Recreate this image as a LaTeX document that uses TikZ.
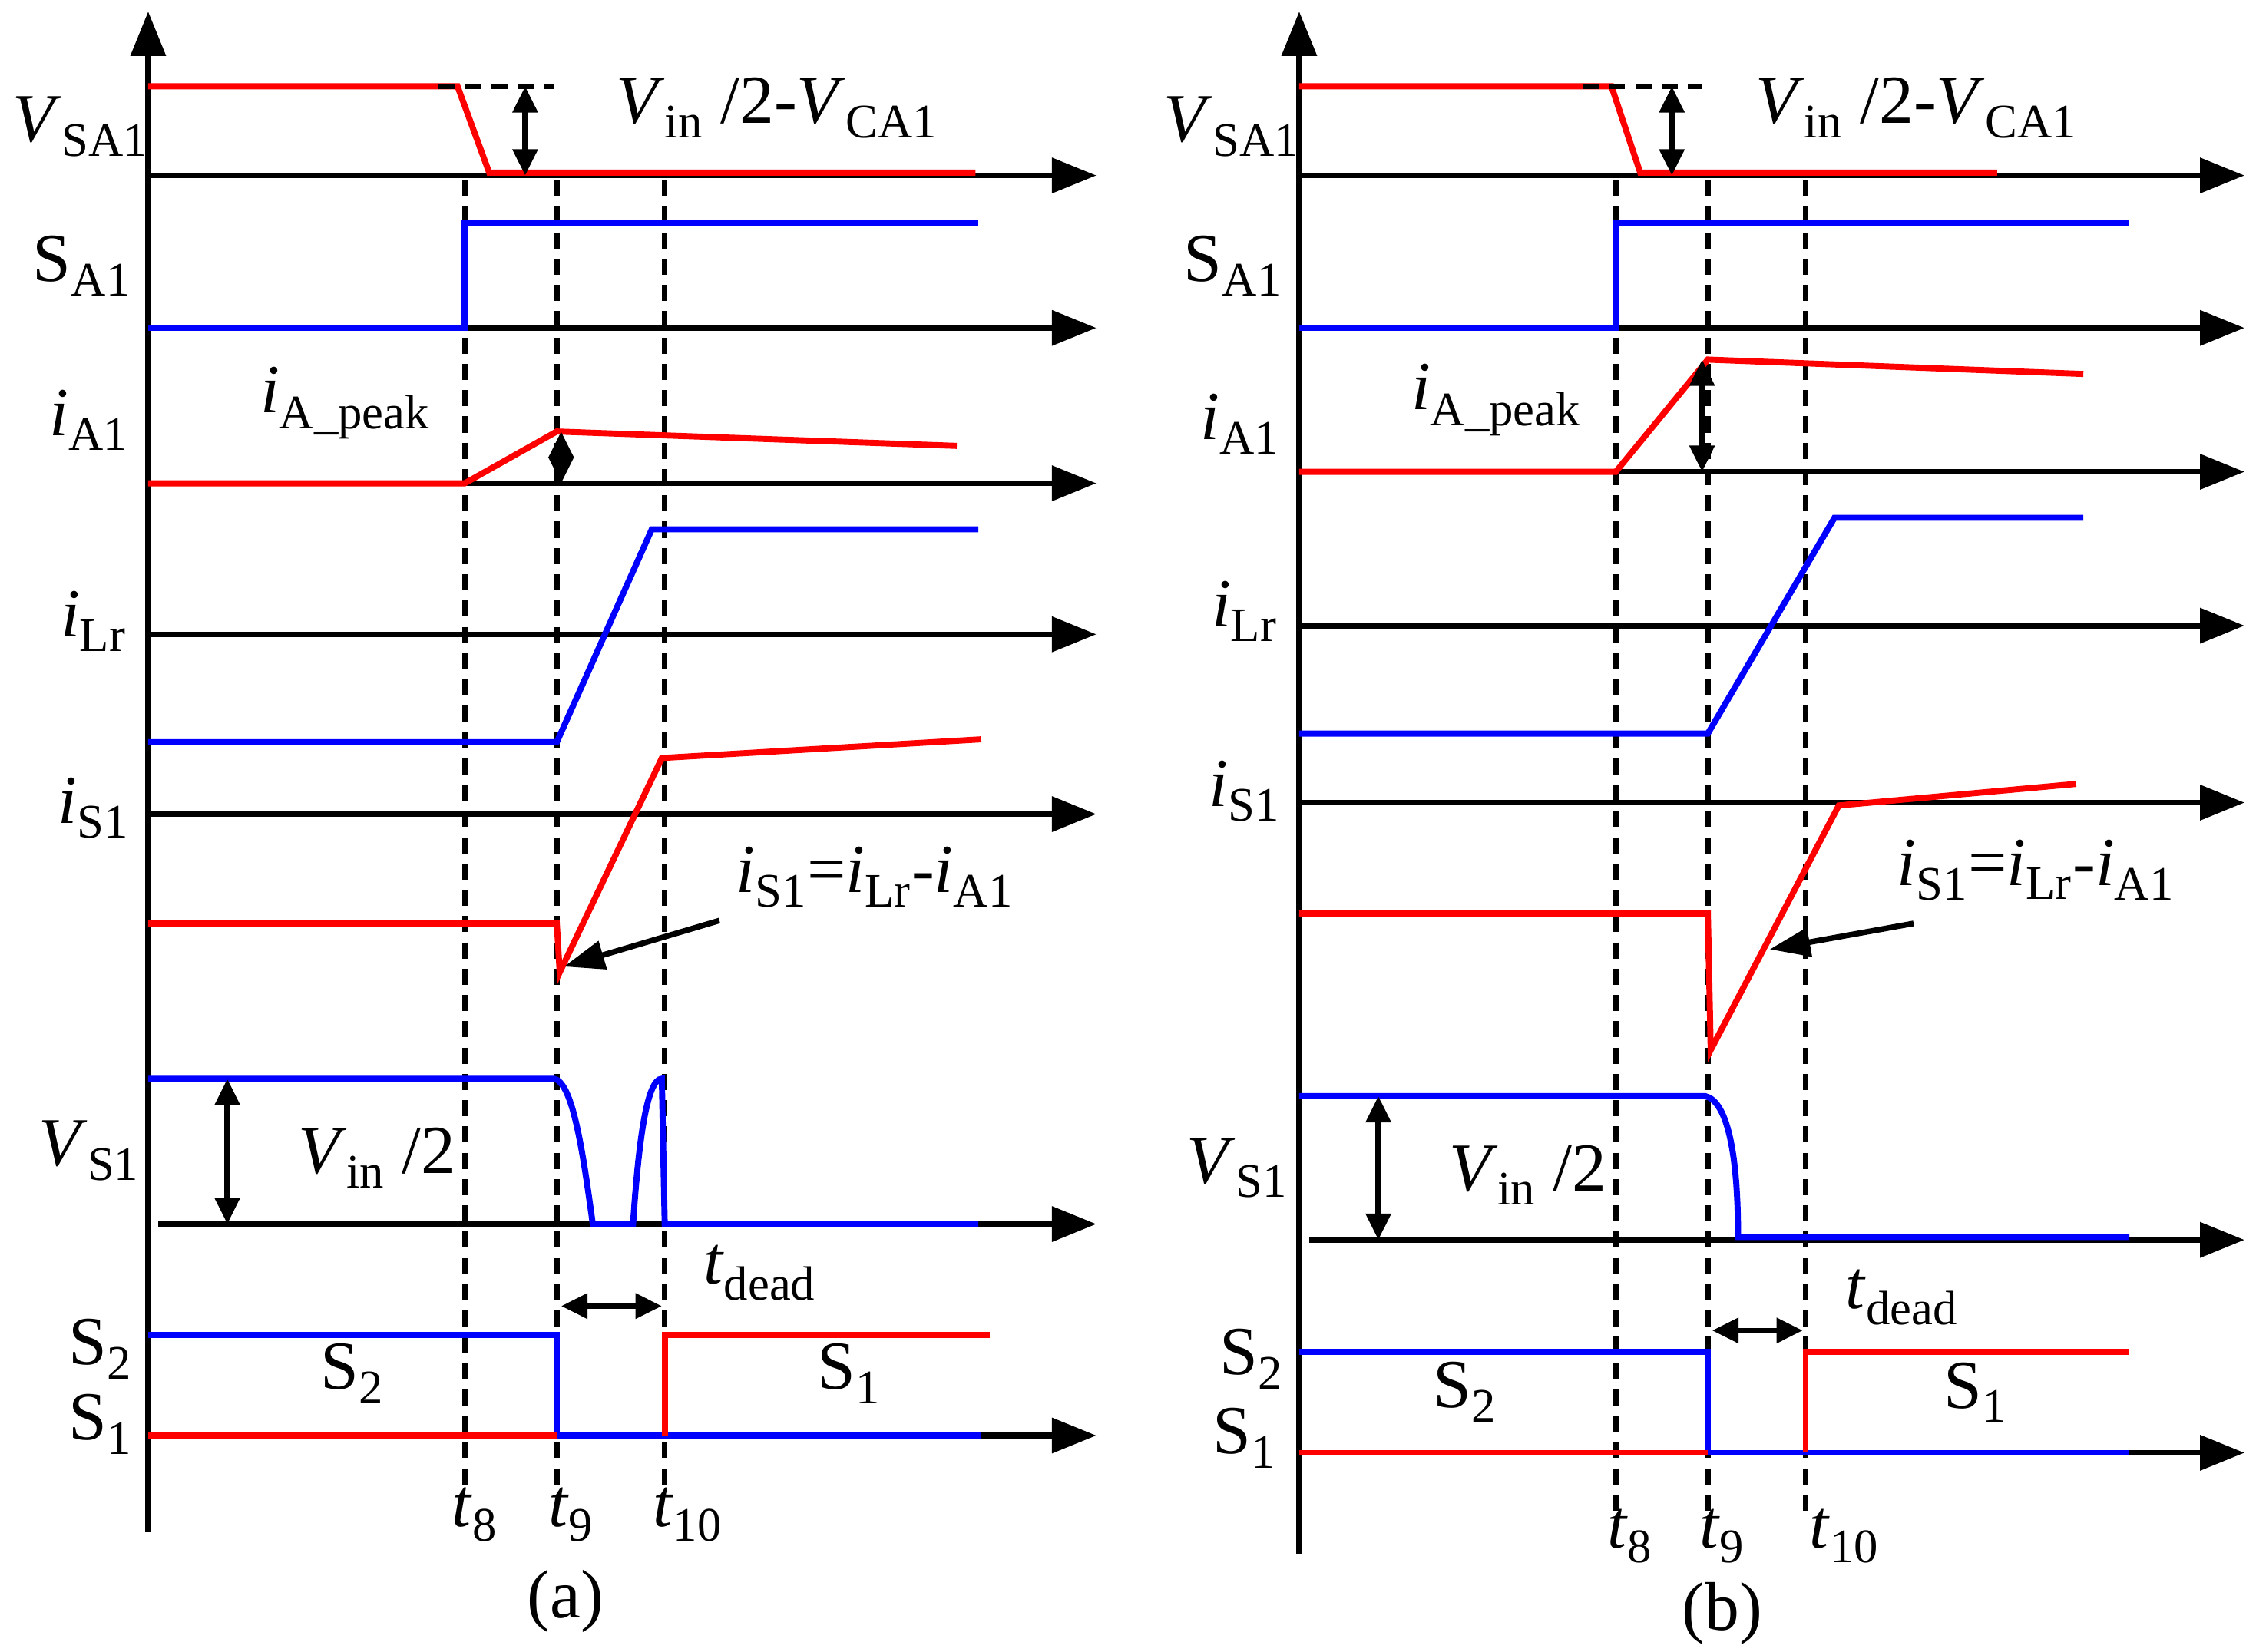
\documentclass[tikz,border=0pt]{standalone}
\usepackage{fontspec}
\setmainfont{Liberation Serif}
\usetikzlibrary{arrows.meta}
\newcommand{\vs}[2]{\textit{#1}\textsubscript{#2}}
\begin{document}
\begin{tikzpicture}[x=0.025cm,y=-0.025cm,
 ax/.style={line width=2.8pt,-{Triangle[length=22pt,width=17pt]}},
 rd/.style={red,line width=3pt},
 bl/.style={blue,line width=3pt},
 ds/.style={black,line width=2.8pt,dash pattern=on 8pt off 5pt},
 da/.style={line width=2.8pt,{Triangle[length=13pt,width=12pt]}-{Triangle[length=13pt,width=12pt]}},
 lb/.style={font=\fontsize{34}{40}\selectfont,inner sep=0pt}]
\useasboundingbox (0,0) rectangle (1568,1148);
% ===== panel a =====
\draw[ax] (103,1065) -- (103,8);
\foreach \y in {122,228,336,441,566,998} \draw[ax] (103,\y) -- (762,\y);
\draw[ax] (110,851) -- (762,851);
\foreach \x in {323,387,462} \draw[ds] (\x,125) -- (\x,1040);
\draw[rd] (103,60) -- (318,60) -- (340,120) -- (678,120);
\draw[ds] (305,60) -- (385,60);
\draw[da] (365,60) -- (365,122);
\draw[bl] (103,228) -- (323,228) -- (323,155) -- (680,155);
\draw[rd] (103,336) -- (323,336) -- (387,300) -- (665,310);
\draw[da] (390,300) -- (390,336);
\draw[bl] (103,516) -- (387,516) -- (453,368) -- (680,368);
\draw[rd] (103,642) -- (387,642) -- (389,676) -- (460,527) -- (682,514);
\draw[line width=2.8pt,-{Triangle[length=20pt,width=14pt]}] (500,640) -- (392,672);
\draw[bl] (103,750) -- (385,750) .. controls (398,752) and (405,800) .. (412,851) -- (440,851) .. controls (444,790) and (450,750) .. (460,750) -- (462,851) -- (680,851);
\draw[da] (158,750) -- (158,851);
\draw[bl] (103,928) -- (387,928) -- (387,998) -- (682,998);
\draw[rd] (103,998) -- (387,998);
\draw[rd] (462,998) -- (462,928) -- (688,928);
\draw[da] (390,908) -- (460,908);
\node[lb] (a1) at (56,88) {\vs{V}{SA1}};
\node[lb] (a2) at (57,185) {S\textsubscript{A1}};
\node[lb] (a3) at (62,292) {\vs{i}{A1}};
\node[lb] (a4) at (240,280) {\vs{i}{A\_peak}};
\node[lb] (a5) at (65,432) {\vs{i}{Lr}};
\node[lb] (a6) at (65,562) {\vs{i}{S1}};
\node[lb] (a7) at (608,610) {\vs{i}{S1}=\vs{i}{Lr}-\vs{i}{A1}};
\node[lb] (a8) at (62,800) {\vs{V}{S1}};
\node[lb] (a9) at (262,805) {\vs{V}{in} /2};
\node[lb] (a10) at (540,75) {\vs{V}{in} /2-\vs{V}{CA1}};
\node[lb] (a11) at (528,885) {\vs{t}{dead}};
\node[lb] (a12) at (70,938) {S\textsubscript{2}};
\node[lb] (a13) at (70,990) {S\textsubscript{1}};
\node[lb] (a14) at (245,955) {S\textsubscript{2}};
\node[lb] (a15) at (590,955) {S\textsubscript{1}};
\node[lb] (a16) at (330,1053) {\vs{t}{8}};
\node[lb] (a17) at (397,1053) {\vs{t}{9}};
\node[lb] (a18) at (478,1053) {\vs{t}{10}};
\node[lb] (a19) at (393,1113) {(a)};
% ===== panel b =====
\draw[ax] (903,1080) -- (903,8);
\foreach \y in {122,228,328,435,558,1010} \draw[ax] (903,\y) -- (1560,\y);
\draw[ax] (910,862) -- (1560,862);
\foreach \x in {1123,1187,1255} \draw[ds] (\x,125) -- (\x,1055);
\draw[rd] (903,60) -- (1120,60) -- (1140,120) -- (1388,120);
\draw[ds] (1100,60) -- (1183,60);
\draw[da] (1162,60) -- (1162,122);
\draw[bl] (903,228) -- (1123,228) -- (1123,155) -- (1480,155);
\draw[rd] (903,328) -- (1123,328) -- (1187,250) -- (1448,260);
\draw[da] (1183,250) -- (1183,328);
\draw[bl] (903,510) -- (1187,510) -- (1275,360) -- (1448,360);
\draw[rd] (903,635) -- (1187,635) -- (1189,730) -- (1278,560) -- (1443,545);
\draw[line width=2.8pt,-{Triangle[length=20pt,width=14pt]}] (1330,642) -- (1230,660);
\draw[bl] (903,762) -- (1185,762) .. controls (1200,765) and (1208,800) .. (1208,860) -- (1480,860);
\draw[da] (958,762) -- (958,862);
\draw[bl] (903,940) -- (1187,940) -- (1187,1010) -- (1480,1010);
\draw[rd] (903,1010) -- (1187,1010);
\draw[rd] (1255,1010) -- (1255,940) -- (1480,940);
\draw[da] (1190,925) -- (1253,925);
\node[lb] (b1) at (856,88) {\vs{V}{SA1}};
\node[lb] (b2) at (857,185) {S\textsubscript{A1}};
\node[lb] (b3) at (862,295) {\vs{i}{A1}};
\node[lb] (b4) at (1040,278) {\vs{i}{A\_peak}};
\node[lb] (b5) at (865,425) {\vs{i}{Lr}};
\node[lb] (b6) at (865,550) {\vs{i}{S1}};
\node[lb] (b7) at (1415,605) {\vs{i}{S1}=\vs{i}{Lr}-\vs{i}{A1}};
\node[lb] (b8) at (860,812) {\vs{V}{S1}};
\node[lb] (b9) at (1062,817) {\vs{V}{in} /2};
\node[lb] (b10) at (1332,75) {\vs{V}{in} /2-\vs{V}{CA1}};
\node[lb] (b11) at (1322,902) {\vs{t}{dead}};
\node[lb] (b12) at (870,945) {S\textsubscript{2}};
\node[lb] (b13) at (865,1000) {S\textsubscript{1}};
\node[lb] (b14) at (1018,968) {S\textsubscript{2}};
\node[lb] (b15) at (1373,968) {S\textsubscript{1}};
\node[lb] (b16) at (1133,1068) {\vs{t}{8}};
\node[lb] (b17) at (1197,1068) {\vs{t}{9}};
\node[lb] (b18) at (1282,1068) {\vs{t}{10}};
\node[lb] (b19) at (1197,1122) {(b)};
\end{tikzpicture}
\end{document}
